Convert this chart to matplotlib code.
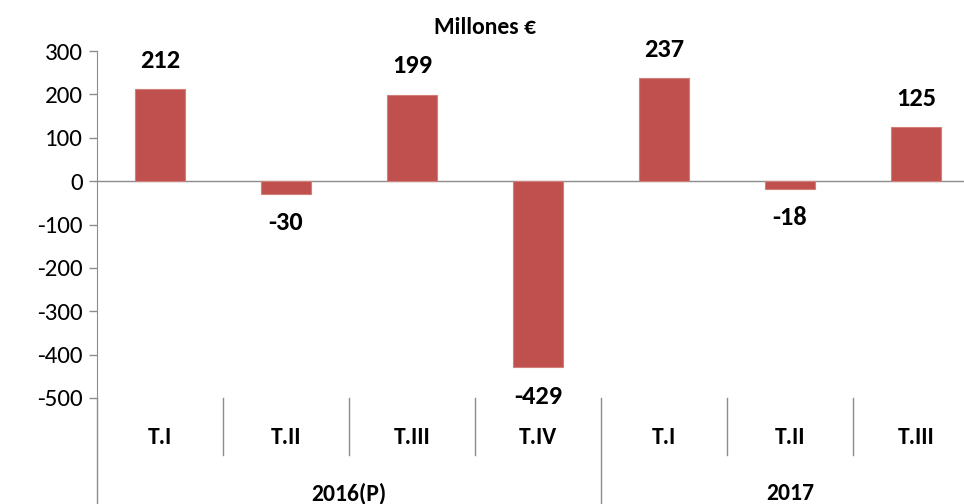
import matplotlib
matplotlib.use('Agg')
import matplotlib.pyplot as plt
from matplotlib import font_manager

# Datos
trimestres = ["T.I", "T.II", "T.III", "T.IV", "T.I", "T.II", "T.III"]
valores = [212, -30, 199, -429, 237, -18, 125]
anios = ["2016(P)", "2017"]
trim_por_anio = [4, 3]
yticks = [300, 200, 100, 0, -100, -200, -300, -400, -500]

names = {f.name for f in font_manager.fontManager.ttflist}
fuente = "Lato"
for cand in ["Carlito", "Liberation Sans Narrow"]:
    if cand in names:
        fuente = cand
        break
plt.rcParams['font.family'] = [fuente, 'DejaVu Sans']
peso = 800

fig = plt.figure(figsize=(9.64, 5.04), dpi=100)
# ancho de categoría ~126 px; el eje sigue más allá del borde derecho
ax = fig.add_axes([97 / 964, 1 - 398 / 504, 882 / 964, (398 - 51) / 504])

x = list(range(len(valores)))
ax.bar(x, valores, width=0.4, color="#C0504D", edgecolor="#D27F7C", linewidth=0.8, zorder=2)
ax.set_xlim(-0.5, len(valores) - 0.5)
ax.set_ylim(-500, 300)
ax.set_yticks(yticks)
ax.set_yticklabels([str(v) for v in yticks], fontsize=18)
ax.tick_params(axis='y', color="#8C8C8C", length=6, width=1, pad=4)
ax.set_xticks([])

for s in ["top", "right", "bottom"]:
    ax.spines[s].set_visible(False)
ax.spines["left"].set_color("#8C8C8C")
ax.spines["left"].set_bounds(-500, 300)
ax.axhline(0, color="#8C8C8C", linewidth=1, zorder=1)

# Etiquetas de datos
for xi, v in zip(x, valores):
    if v >= 0:
        ax.text(xi, v + 40, str(v), ha="center", va="bottom", fontsize=19, fontweight=peso)
    else:
        ax.text(xi, v - 40, str(v), ha="center", va="top", fontsize=19, fontweight=peso)

# Ejes de categorías por debajo del gráfico
trans = ax.get_xaxis_transform()
gris = "#8C8C8C"
ax.plot([-0.5, -0.5], [0, -0.31], transform=trans, color=gris, lw=1, clip_on=False)
inicio = 0
for n, anio in zip(trim_por_anio, anios):
    for k in range(inicio, inicio + n):
        ax.text(k, -0.115, trimestres[k], transform=trans, ha="center", va="center",
                fontsize=17, fontweight=peso)
        if k < inicio + n - 1:
            ax.plot([k + 0.5, k + 0.5], [0, -0.165], transform=trans, color=gris, lw=1, clip_on=False)
    centro = inicio + (n - 1) / 2
    ax.text(centro, -0.275, anio, transform=trans, ha="center", va="center",
            fontsize=17, fontweight=peso)
    fin = inicio + n - 0.5
    if fin < len(valores) - 0.5:
        ax.plot([fin, fin], [0, -0.31], transform=trans, color=gris, lw=1, clip_on=False)
    inicio += n

fig.text(485 / 964, 1 - 27 / 504, "Millones €", ha="center", va="center", fontsize=17, fontweight=peso)

fig.savefig("out.png", dpi=100)
